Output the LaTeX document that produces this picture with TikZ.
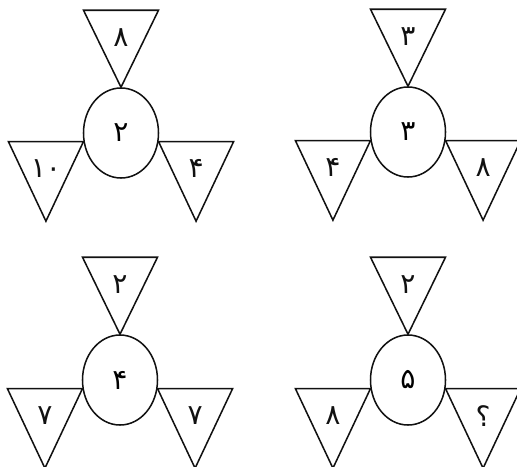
\documentclass[tikz,border=0pt]{standalone}
\usepackage{fontspec}
\newfontfamily\farsi[Script=Arabic]{DejaVu Sans}
\usetikzlibrary{shapes.geometric,calc}
\definecolor{ink}{HTML}{111111}
\tikzset{
  hub/.style={draw=ink,ellipse,line width=1.3pt,
              minimum width=2.25cm,minimum height=2.7cm,inner sep=0pt,
              font=\farsi\fontsize{24}{28}\selectfont},
  wedge/.style={draw=ink,line width=1.3pt,line join=miter},
  digit/.style={inner sep=0pt,text=ink,font=\farsi\fontsize{24}{28}\selectfont}
}
\begin{document}
\begin{tikzpicture}[x=0.03cm,y=-0.03cm]
  \fill[white] (0,0) rectangle (517,466);
  \useasboundingbox (0,0) rectangle (517,466);

  % one figure: ellipse in the middle, three triangles round it
  \foreach \i/\cx/\cy/\vc/\vt/\vl/\vr in
    {1/121/133/۲/۸/۱۰/۴, 2/408/132/۳/۳/۴/۸,
     3/120/380/۴/۲/۷/۷, 4/408/380/۵/۲/۸/؟}{
    \node[hub] (c\i) at (\cx,\cy) {\vc};
    \draw[wedge] (c\i.north) -- ++(-37.5,-77) -- ++(75,0) -- cycle;
    \draw[wedge] (c\i.193) -- ++(-75,0) -- ++(37.5,79.5) -- cycle;
    \draw[wedge] (c\i.-13) -- ++(75,0) -- ++(-37.5,79.5) -- cycle;
    \node[digit] (t\i) at ($(c\i.north)+(0,-50)$) {\vt};
    \node[digit] (l\i) at ($(c\i.193)+(-37.5,27)$) {\vl};
    \node[digit] (r\i) at ($(c\i.-13)+(37.5,27)$) {\vr};
  }
\end{tikzpicture}
\end{document}
